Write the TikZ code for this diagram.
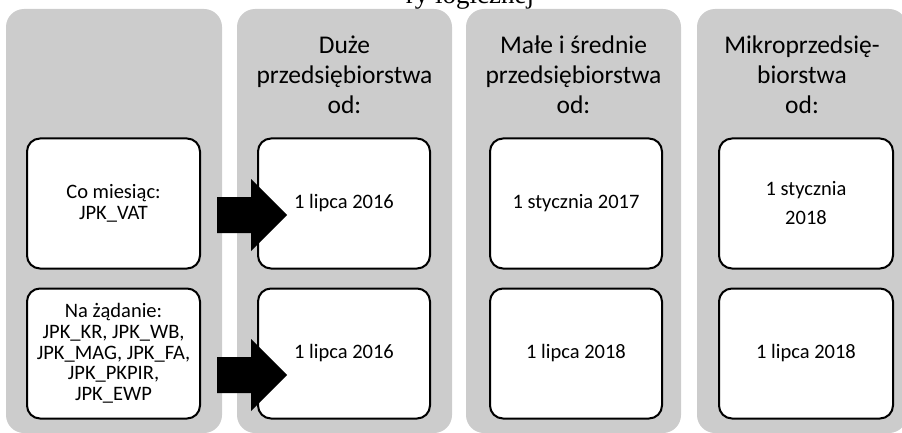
\documentclass[tikz,border=0pt]{standalone}
\usepackage{fontspec}
\setmainfont{Carlito}
\newfontfamily\captionserif{Liberation Serif}
\definecolor{panelgray}{RGB}{204,204,204}
\begin{document}
\begin{tikzpicture}[x=1pt,y=-1pt,
  panel/.style={fill=panelgray, rounded corners=18pt, minimum width=#1,
    minimum height=424pt, inner sep=0pt},
  card/.style={draw=black, line width=2pt, fill=white, rounded corners=13pt,
    minimum width=#1, minimum height=130pt, align=center, inner sep=0pt,
    font=\fontsize{20.5}{20.7}\selectfont},
  heading/.style={anchor=north, align=center, inner sep=0pt,
    font=\fontsize{25.5}{30}\selectfont},
  blockarrow/.style={fill=black}]
\useasboundingbox (0,0) rectangle (902,433);
\clip (0,0) rectangle (902,433);

% running title, partly cut by the top edge
\node[anchor=base, inner sep=0pt, font=\captionserif\fontsize{27}{30}\selectfont]
  (title) at (470,4) {ry logicznej};

% grey columns
\node[panel=216pt] (col1) at (114,221) {};
\node[panel=215pt] (col2) at (344.5,221) {};
\node[panel=215pt] (col3) at (573.5,221) {};
\node[panel=210pt] (col4) at (802,221) {};

% column headings
\node[heading] (h2) at (344.5,32) {\strut Duże\\przedsiębiorstwa\\od:};
\node[heading] (h3) at (573.5,32) {\strut Małe i średnie\\przedsiębiorstwa\\od:};
\node[heading] (h4) at (802,32) {\strut Mikroprzedsię-\\biorstwa\\od:};

% cards
\node[card=173pt] (vat) at (113.5,203.5) {Co miesiąc:\\JPK\_VAT};
\node[card=173pt] (req) at (113.5,353.5)
  {Na żądanie:\\JPK\_KR, JPK\_WB,\\JPK\_MAG, JPK\_FA,\\JPK\_PKPIR,\\JPK\_EWP};
\node[card=172pt] (big1) at (344,203.5) {1 lipca 2016};
\node[card=172pt] (big2) at (344,353.5) {1 lipca 2016};
\node[card=172pt] (sme1) at (576,203.5) {1 stycznia 2017};
\node[card=172pt] (sme2) at (576,353.5) {1 lipca 2018};
\node[card=174pt, font=\fontsize{20.5}{29}\selectfont] (micro1) at (806,203.5)
  {1 stycznia\\2018};
\node[card=174pt] (micro2) at (806,353.5) {1 lipca 2018};

% block arrows into the large-company dates
\fill[blockarrow] (217,197) -- (251,197) -- (251,179) -- (287,215)
  -- (251,251) -- (251,233) -- (217,233) -- cycle;
\fill[blockarrow] (217,357) -- (251,357) -- (251,339) -- (287,375)
  -- (251,411) -- (251,393) -- (217,393) -- cycle;
\end{tikzpicture}
\end{document}
